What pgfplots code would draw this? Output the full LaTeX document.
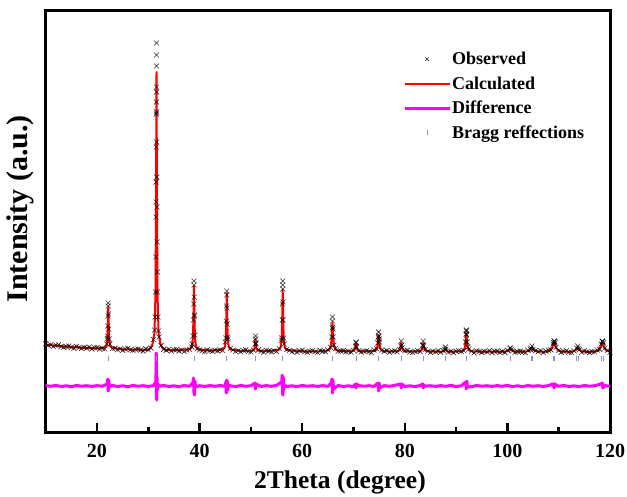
\documentclass[border=0pt]{standalone}
\usepackage{pgfplots}
\pgfplotsset{compat=1.18}
\usepackage{pgfplotstable}
\usepackage{fontspec}
\setmainfont{Liberation Serif}
\definecolor{braggc}{RGB}{140,140,230}
\definecolor{magc}{RGB}{255,0,255}

\pgfplotstableread{
x y
10.0 88.3
10.5 86.6
11.0 87.2
11.5 85.6
12.0 86.8
12.5 87.2
13.0 85.5
13.5 84.7
14.0 85.6
14.5 85.9
15.0 84.7
15.5 83.7
16.0 85.6
16.5 84.6
17.0 83.7
17.5 84.6
18.0 83.9
18.5 85.0
19.0 83.0
19.5 84.3
20.0 84.4
20.5 82.9
21.0 83.7
21.5 83.0
22.0 93.5
22.5 88.0
23.0 83.4
23.5 83.8
24.0 82.3
24.5 83.1
25.0 81.7
25.5 83.1
26.0 83.7
26.5 82.1
27.0 81.6
27.5 82.6
28.0 83.0
28.5 82.0
29.0 81.0
29.5 83.1
30.0 82.2
30.5 84.0
31.0 92.5
31.5 230
32.0 101
32.5 86.5
33.0 82.8
33.5 81.6
34.0 82.8
34.5 80.9
35.0 82.3
35.5 82.4
36.0 81.0
36.5 81.9
37.0 80.5
37.5 82.0
38.0 82.6
38.5 85.0
39.0 117
39.5 83.2
40.0 82.1
40.5 81.1
41.0 80.2
41.5 82.2
42.0 81.4
42.5 80.6
43.0 81.7
43.5 81.1
44.0 82.2
44.5 81.6
45.0 90.0
45.5 95.0
46.0 83.6
46.5 82.0
47.0 80.5
47.5 81.4
48.0 80.1
48.5 81.6
49.0 82.1
49.5 80.6
50.0 80.1
50.5 81.9
51.0 88.0
51.5 82.2
52.0 80.7
52.5 79.7
53.0 81.8
53.5 81.0
54.0 80.2
54.5 81.2
55.0 80.6
55.5 83.6
56.0 91.8
56.5 88.0
57.0 82.6
57.5 81.6
58.0 80.2
58.5 81.0
59.0 79.7
59.5 81.2
60.0 81.8
60.5 80.3
61.0 79.8
61.5 80.9
62.0 81.3
62.5 80.3
63.0 79.4
63.5 81.5
64.0 80.7
64.5 80.3
65.0 82.2
65.5 84.8
66.0 103
66.5 83.3
67.0 80.6
67.5 81.2
68.0 81.4
68.5 80.0
69.0 80.8
69.5 79.8
70.0 81.8
70.5 89.1
71.0 81.1
71.5 79.9
72.0 80.7
72.5 81.2
73.0 80.2
73.5 79.3
74.0 82.1
74.5 83.1
75.0 93.0
75.5 81.9
76.0 80.7
76.5 81.5
77.0 79.7
77.5 81.0
78.0 81.2
78.5 80.2
79.0 82.4
79.5 84.5
80.0 81.3
80.5 81.7
81.0 80.0
81.5 79.5
82.0 80.6
82.5 81.3
83.0 80.6
83.5 86.5
84.0 82.6
84.5 80.9
85.0 79.7
85.5 80.8
86.0 80.1
86.5 81.3
87.0 79.7
87.5 81.3
88.0 82.9
88.5 79.9
89.0 80.7
89.5 79.3
90.0 80.8
90.5 81.4
91.0 80.5
91.5 81.4
92.0 101
92.5 82.9
93.0 80.7
93.5 79.1
94.0 81.2
94.5 80.4
95.0 79.6
95.5 80.7
96.0 80.1
96.5 81.3
97.0 79.4
97.5 80.8
98.0 81.0
98.5 79.6
99.0 80.6
99.5 79.5
100.0 81.7
100.5 83.8
101.0 81.1
101.5 79.6
102.0 80.5
102.5 80.9
103.0 79.9
103.5 79.3
104.0 81.7
104.5 82.6
105.0 82.5
105.5 81.5
106.0 80.3
106.5 81.2
107.0 79.4
107.5 81.0
108.0 81.8
108.5 82.1
109.0 89.5
109.5 84.6
110.0 81.5
110.5 79.6
111.0 80.6
111.5 81.2
112.0 79.7
112.5 79.5
113.0 81.2
113.5 83.9
114.0 82.2
114.5 79.5
115.0 81.2
115.5 80.2
116.0 79.4
116.5 80.5
117.0 80.2
117.5 82.1
118.0 82.6
118.5 90.5
119.0 83.9
119.5 81.7
120.0 79.7
21.9 88
22.05 96
22.1 106
22.15 116
22.2 126
22.2 129
22.25 118
22.3 103
22.4 93
31.2 102
31.3 115
31.4 140
31.45 175
31.5 215
31.53 250
31.55 285
31.57 318
31.58 330
31.59 345
31.6 366
31.6 377
31.6 389
31.62 340
31.63 320
31.65 290
31.67 255
31.7 225
31.73 190
31.76 160
31.8 140
31.9 115
32.1 95
38.6 88
38.7 96
38.8 112
38.85 128
38.9 147
38.9 151
38.95 135
39.0 116
39.1 97
45.1 94
45.2 111
45.25 126
45.3 141
45.3 137
45.35 124
45.4 108
45.5 93
50.8 88
50.9 96
50.9 93
51.0 89
56.0 94
56.1 112
56.15 128
56.2 143
56.2 147
56.2 151
56.25 130
56.3 112
56.4 94
65.75 95
65.85 104
65.9 111
65.9 115
65.95 105
66.05 95
66.2 87
70.4 86
70.5 90
70.6 85
74.75 89
74.85 95
74.9 100
74.95 96
75.05 90
79.2 86
79.3 91
79.4 87
83.5 87
83.6 91
83.7 86
87.8 82.5
87.9 85
91.85 90
91.95 98
92.0 102
92.05 97
92.15 90
92.3 85
100.6 84
100.8 82.5
104.6 84
104.8 86
108.9 88
109.1 91
109.2 90.5
109.3 89
113.7 86
113.9 84
118.3 88
118.5 91
118.6 90.5
118.7 89
}\obsdata

\pgfplotstableread{
x y
10 87.5
12 86.3
14 85.4
16 84.7
18 84.1
20 83.6
21.4 84.1
21.8 85.8
22.0 91.6
22.1 104.2
22.2 125.0
22.3 104.2
22.4 91.6
22.6 85.8
23.0 84.1
25 82.7
28 82.3
30 82.1
30.4 83.8
30.8 87.6
31.2 98.7
31.4 137.6
31.5 221
31.6 360
31.7 221
31.8 137.6
32.0 98.7
32.4 87.6
32.8 83.8
33.4 82.0
35 81.7
38.1 82.8
38.5 85.4
38.7 94.4
38.8 113.8
38.9 146
39.0 113.8
39.1 94.4
39.3 85.4
39.7 82.8
42 81.3
44.5 82.4
44.9 84.7
45.1 92.8
45.2 110.1
45.3 139
45.4 110.1
45.5 92.8
45.7 84.7
46.1 82.4
48 81.1
50.1 81.2
50.5 81.7
50.7 83.4
50.8 87
50.9 93
51.0 87
51.1 83.4
51.3 81.7
51.7 81.2
53 80.9
55.4 82.0
55.8 84.5
56.0 93.0
56.1 111.4
56.2 142
56.3 111.4
56.4 93.0
56.6 84.5
57.0 82.0
60 80.7
63 80.6
64.7 81.2
65.3 82.3
65.6 86.3
65.75 94.8
65.9 109
66.05 94.8
66.2 86.3
66.5 82.3
67.1 81.2
69.3 80.7
69.9 81.0
70.2 82.0
70.35 84.3
70.5 88
70.65 84.3
70.8 82.0
71.1 81.0
71.7 80.7
73.7 80.8
74.3 81.5
74.6 83.8
74.75 88.8
74.9 97
75.05 88.8
75.2 83.8
75.5 81.5
76.1 80.8
78.1 80.6
78.7 80.9
79.0 82.1
79.15 84.7
79.3 89
79.45 84.7
79.6 82.1
79.9 80.9
80.5 80.6
82.4 80.6
83.0 80.9
83.3 82.1
83.45 84.7
83.6 89
83.75 84.7
83.9 82.1
84.2 80.9
84.8 80.6
86.7 80.4
87.3 80.5
87.6 80.8
87.75 81.7
87.9 83
88.05 81.7
88.2 80.8
88.5 80.5
89.1 80.4
90.8 80.7
91.4 81.4
91.7 84.0
91.85 89.7
92.0 99
92.15 89.7
92.3 84.0
92.6 81.4
93.2 80.7
96 80.3
99.0 80.3
99.8 80.6
100.2 81.5
100.4 82.4
100.6 83
100.8 82.4
101.0 81.5
101.4 80.6
102.2 80.3
103.2 80.3
104.0 80.8
104.4 81.9
104.6 83.2
104.8 84
105.0 83.2
105.2 81.9
105.6 80.8
106.4 80.3
107.5 80.4
108.3 81.4
108.7 84.1
108.9 87.2
109.1 89
109.3 87.2
109.5 84.1
109.9 81.4
110.7 80.4
112.1 80.2
112.9 80.7
113.3 81.9
113.5 83.2
113.7 84
113.9 83.2
114.1 81.9
114.5 80.7
115.3 80.2
116.9 80.3
117.7 81.4
118.1 84.1
118.3 87.2
118.5 89
118.7 87.2
118.9 84.1
119.3 81.4
120.0 80.3
}\calcdata

\pgfplotstableread{
x y
10 46.4
11 45.7
12 46.6
13 45.5
14 46.2
15 45.4
16 46.5
17 45.8
18 46.3
19 45.6
20 46.4
21 45.7
22.0 48
22.1 53
22.2 41
22.3 52
22.4 45
23 46.6
24 45.5
25 46.2
26 45.4
27 46.5
28 45.8
29 46.3
30 45.6
31 46.4
31.45 50
31.5 58
31.55 79
31.6 34
31.65 32
31.7 55
31.8 42
31.9 48
32 45.7
33 46.6
34 45.5
35 46.2
36 45.4
37 46.5
38 45.8
38.7 49
38.8 54
38.9 40
39.0 37
39.1 51
39.2 45
40 46.3
41 45.6
42 46.4
43 45.7
44 46.6
45.0 45.5
45.1 50
45.2 39
45.25 52
45.3 40
45.4 51
45.5 42
45.6 47
46 46.2
47 45.4
48 46.5
49 45.8
50 46.3
50.8 49
50.9 43
51.0 48
52 45.6
53 46.4
54 45.7
55 46.6
56.0 50
56.1 57
56.2 38
56.25 37
56.3 55
56.4 42
56.5 47
57 45.5
58 46.2
59 45.4
60 46.5
61 45.8
62 46.3
63 45.6
64 46.4
65 45.7
65.7 49
65.8 53
65.9 39
66.0 52
66.1 43
67 46.6
68 45.5
69 46.2
70 45.4
70.4 48
70.5 44
70.6 48
71 46.5
72 45.8
73 46.3
74 45.6
74.8 49
74.9 41
75.0 49
75.1 44
76 46.4
77 45.7
78 46.6
79.2 48
79.3 44
79.4 48
80 45.5
81 46.2
82 45.4
83 46.5
83.5 48
83.6 44
83.7 47
84 45.8
85 46.3
86 45.6
87 46.4
88 45.7
89 46.6
90 45.5
91 46.2
91.9 50
92.0 43
92.1 51
92.2 45
93 45.4
94 46.5
95 45.8
96 46.3
97 45.6
98 46.4
99 45.7
100 46.6
101 45.5
102 46.2
103 45.4
104 46.5
105 45.8
106 46.3
107 45.6
108 46.4
108.9 48
109.1 44
109.2 48
110 45.7
111 46.6
112 45.5
113 46.2
114 45.4
115 46.5
116 45.8
117 46.3
118.3 48
118.5 49
118.6 44
119 46.4
120 45.7
}\diffdata

\pgfplotstableread{
x y
22.2 74
31.6 74
38.9 74
45.3 74
50.9 74
56.2 74
65.9 74
70.5 74
74.9 74
79.3 74
83.6 74
87.9 74
92.0 74
100.6 74
104.6 74
104.9 74
108.9 74
109.2 74
113.5 74
113.8 74
118.3 74
118.7 74
}\braggdata

\begin{document}
\begin{tikzpicture}
\useasboundingbox (-45.7pt,-64pt) rectangle (581.3pt,432pt);
\begin{axis}[
  scale only axis,
  width=564.3pt, height=421pt,
  at={(0pt,0pt)}, anchor=south west,
  xmin=10, xmax=120, ymin=0, ymax=421,
  xtick={20,40,60,80,100,120},
  minor xtick={30,50,70,90,110},
  ytick=\empty,
  xtick pos=bottom,
  tick align=inside,
  major tick length=9pt,
  minor tick length=5pt,
  every major tick/.append style={line width=2.5pt, black},
  every minor tick/.append style={line width=2.5pt, black},
  axis line style={line width=3pt},
  /pgf/number format/assume math mode=true,
  xticklabel style={font=\fontsize{20}{20}\selectfont\bfseries, anchor=base, yshift=-25pt},
  xlabel={2Theta (degree)},
  xlabel style={font=\fontsize{25.5}{25.5}\selectfont\bfseries, at={(axis description cs:0.5215,0)}, anchor=base, yshift=-56pt},
  ylabel={Intensity (a.u.)},
  ylabel style={font=\fontsize{30}{30}\selectfont\bfseries, at={(axis description cs:-0.0447,0.53)}, anchor=center},
  legend image code/.code={\draw[mark repeat=2,mark phase=2,#1] plot coordinates {(0pt,0pt) (22.5pt,0pt) (45pt,0pt)};},
  legend style={draw=none, fill=none, at={(0.633,0.905)}, anchor=north west,
    font=\fontsize{18}{18}\selectfont\bfseries, row sep=8.5pt, inner sep=0pt,
    nodes={inner sep=1pt}},
  legend cell align=left,
]
\addplot[only marks, mark=x, mark size=3.5pt, mark options={draw=black, opacity=0.8, line width=0.6pt},
  legend image code/.code={\draw[black!35, line width=0.5pt] plot[mark=x, mark size=2.5pt] coordinates {(22.5pt,0pt)};}] table {\obsdata};
\addlegendentry{Observed}
\addplot[red, line width=2pt, line join=round] table {\calcdata};
\addlegendentry{Calculated}
\addplot[magc, line width=3pt, line join=round] table {\diffdata};
\addlegendentry{Difference}
\addplot[only marks, mark=|, mark size=2.5pt, mark options={draw=braggc, line width=0.6pt}] table {\braggdata};
\addlegendentry{Bragg reffections}
\end{axis}
\end{tikzpicture}
\end{document}
